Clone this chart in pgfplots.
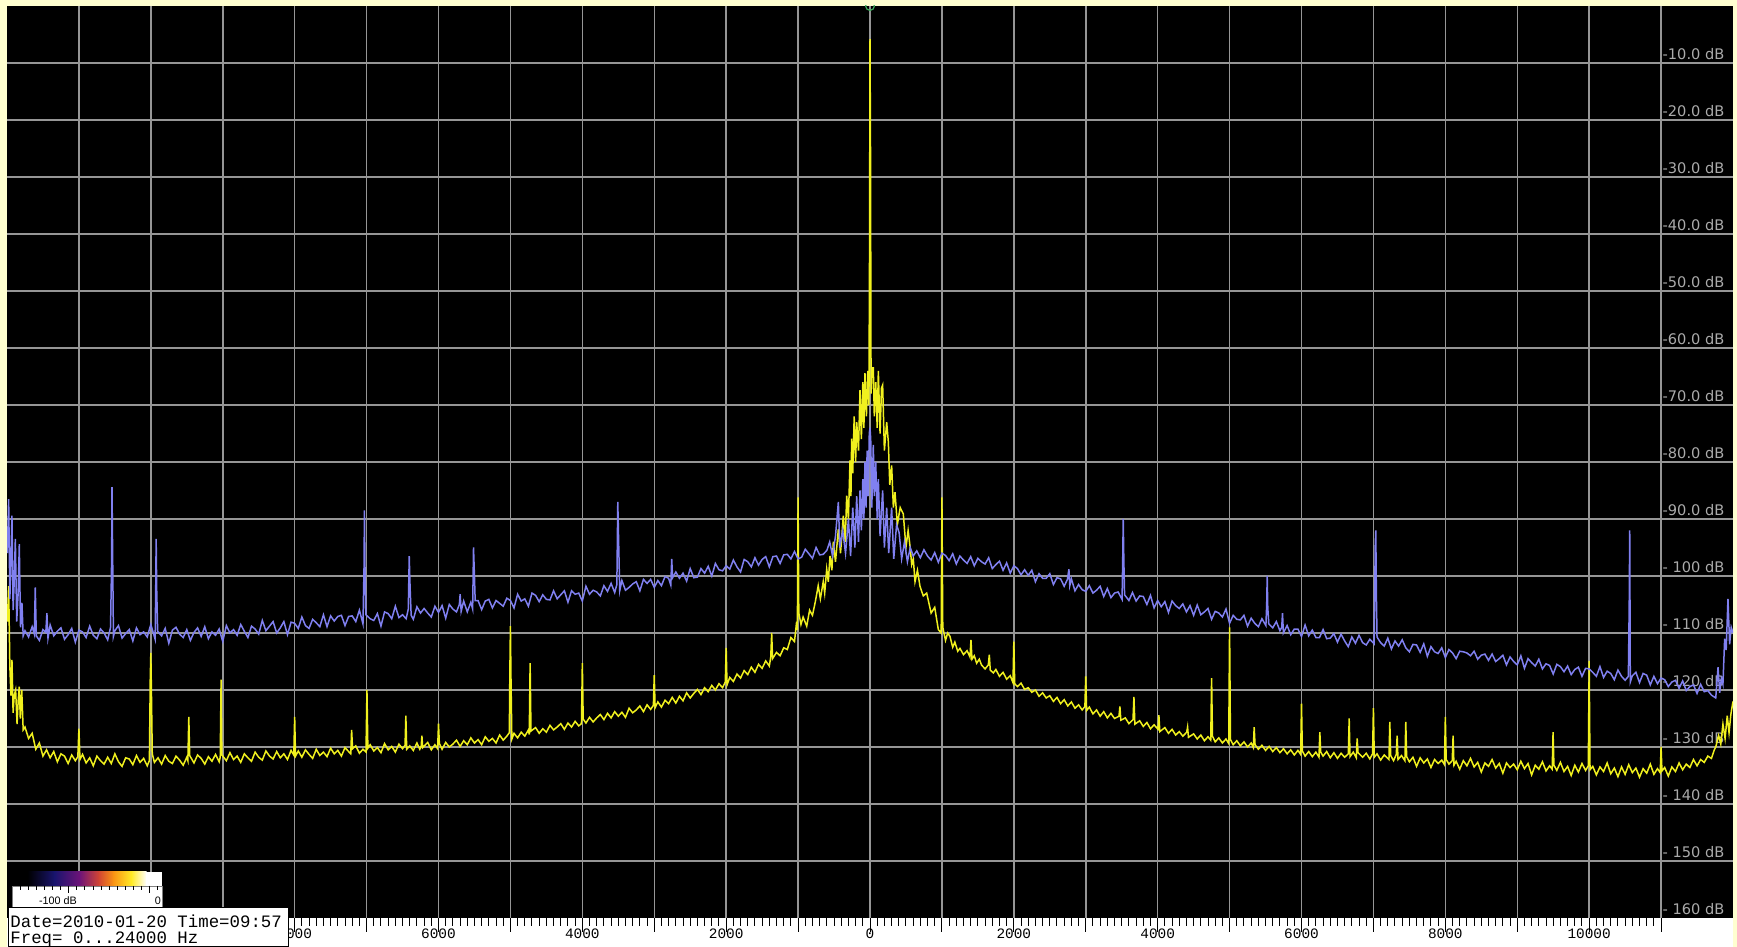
\documentclass[border=0pt]{standalone}
\usepackage{pgfplots}
\pgfplotsset{compat=1.18}
\usepackage{pgfplotstable}
\usepackage{fontspec}
\setmainfont{Liberation Sans}
\newfontfamily\dbfont{DejaVu Sans}
\newfontfamily\rulerfont{Liberation Mono}
\definecolor{framey}{RGB}{255,255,208}
\definecolor{gridg}{RGB}{150,150,150}
\definecolor{labg}{RGB}{170,170,170}
\definecolor{trblue}{RGB}{128,128,240}
\definecolor{tryel}{RGB}{240,240,30}
\definecolor{mkgreen}{RGB}{60,170,90}
\definecolor{sb1}{RGB}{25,20,110}
\definecolor{sb2}{RGB}{110,20,120}
\definecolor{sb3}{RGB}{210,70,50}
\definecolor{sb4}{RGB}{250,150,20}
\definecolor{sb5}{RGB}{255,235,40}
\tikzset{dblab/.style={anchor=south west, inner sep=0pt, xshift=0.6pt, yshift=1.2pt, text=labg, font=\dbfont\fontsize{7.3}{8}\selectfont}}

\pgfplotstableread{
f db
-11995 -96
-11977 -86.5
-11960 -104
-11945 -97
-11931 -89.4
-11915 -106
-11900 -101
-11884 -93.5
-11865 -108
-11845 -103
-11829 -94.4
-11812 -109
-11800 -107
-11792 -104.7
-11775 -110.5
-11750 -109.6
-11700 -110.7
-11650 -108.9
-11620 -110.2
-11607 -102
-11592 -110.5
-11550 -111.3
-11500 -109.4
-11460 -109.9
-11445 -106.5
-11430 -110.9
-11400 -108.6
-11350 -110.5
-11300 -109.7
-11250 -109.1
-11200 -111.1
-11150 -110.3
-11100 -109.2
-11050 -111.6
-11000 -109.5
-10950 -109.8
-10900 -110.8
-10850 -108.8
-10800 -110.4
-10750 -111.0
-10700 -109.3
-10650 -110.0
-10600 -111.2
-10560 -109.0
-10545 -97
-10540 -84.4
-10530 -97.5
-10520 -110.6
-10500 -109.6
-10450 -108.7
-10400 -110.9
-10350 -110.1
-10300 -109.4
-10250 -111.4
-10200 -109.1
-10150 -110.3
-10100 -109.8
-10050 -110.7
-10000 -108.5
-9940 -111.1
-9932 -102
-9926 -93.5
-9918 -102.5
-9905 -109.7
-9850 -110.5
-9800 -109.2
-9750 -111.8
-9700 -109.5
-9650 -109.0
-9600 -110.2
-9550 -110.8
-9500 -109.4
-9450 -111.3
-9400 -109.9
-9350 -109.1
-9300 -110.6
-9250 -108.9
-9200 -111.0
-9150 -109.8
-9100 -110.4
-9050 -109.3
-9000 -111.5
-8950 -108.7
-8900 -110.0
-8850 -109.4
-8800 -110.4
-8750 -108.5
-8700 -109.7
-8650 -110.8
-8600 -108.8
-8550 -109.3
-8500 -110.2
-8450 -107.8
-8400 -109.6
-8350 -108.8
-8300 -108.0
-8250 -110.0
-8200 -109.1
-8150 -108.0
-8100 -110.3
-8050 -108.1
-8000 -108.3
-7950 -109.2
-7900 -107.2
-7850 -108.7
-7800 -109.2
-7750 -107.6
-7700 -108.2
-7650 -108.9
-7600 -106.8
-7550 -108.9
-7500 -107.0
-7450 -107.9
-7400 -107.1
-7350 -106.9
-7300 -108.7
-7250 -107.1
-7200 -107.0
-7150 -108.0
-7100 -106.0
-7050 -108.4
-7035 -98
-7030 -88.5
-7022 -98.5
-7010 -106.8
-6950 -107.5
-6900 -107.8
-6850 -106.6
-6800 -108.8
-6750 -106.3
-6700 -106.6
-6650 -107.5
-6600 -105.3
-6550 -107.3
-6500 -106.8
-6450 -107.5
-6420 -105.8
-6407 -96.5
-6395 -102
-6380 -106.9
-6350 -107.6
-6300 -105.4
-6250 -106.5
-6200 -105.7
-6150 -106.5
-6100 -107.2
-6050 -105.3
-6000 -106.4
-5950 -105.2
-5900 -107.4
-5850 -105.0
-5800 -105.8
-5750 -106.3
-5710 -105.0
-5699 -103.2
-5685 -106.2
-5650 -104.4
-5600 -106.3
-5550 -104.6
-5525 -105.8
-5513 -95
-5500 -100
-5490 -104.3
-5450 -104.3
-5400 -105.9
-5350 -104.4
-5300 -104.1
-5250 -105.6
-5200 -104.3
-5150 -104.8
-5100 -105.3
-5050 -103.9
-5000 -104.3
-4950 -105.6
-4900 -103.2
-4850 -104.4
-4800 -104.0
-4750 -105.3
-4700 -103.0
-4650 -103.4
-4600 -104.5
-4550 -103.3
-4500 -104.1
-4450 -104.2
-4400 -102.6
-4350 -104.0
-4300 -103.3
-4250 -102.6
-4200 -104.6
-4150 -102.6
-4100 -103.2
-4050 -103.0
-4000 -104.4
-3950 -101.8
-3900 -103.2
-3850 -102.5
-3800 -102.8
-3750 -103.5
-3700 -101.7
-3650 -102.7
-3600 -101.3
-3550 -102.9
-3520 -101.5
-3507 -87
-3495 -94
-3480 -102.6
-3450 -100.8
-3400 -102.5
-3350 -102.0
-3300 -101.4
-3250 -101.0
-3200 -102.6
-3150 -100.6
-3100 -101.3
-3050 -100.6
-3000 -102.0
-2950 -100.8
-2900 -101.7
-2850 -100.1
-2800 -100.4
-2770 -101.6
-2757 -97
-2745 -100.3
-2700 -99.3
-2650 -100.4
-2600 -99.5
-2550 -100.9
-2500 -98.7
-2450 -100.3
-2400 -100.2
-2350 -98.7
-2300 -99.5
-2250 -98.3
-2200 -100.0
-2150 -97.8
-2100 -98.9
-2050 -99.1
-2000 -98.2
-1950 -98.8
-1900 -97.2
-1850 -98.4
-1800 -99.3
-1750 -97.1
-1700 -97.5
-1650 -98.4
-1600 -96.8
-1550 -98.1
-1500 -97.1
-1450 -96.6
-1400 -98.4
-1350 -96.6
-1300 -96.5
-1250 -97.8
-1200 -96.3
-1150 -96.2
-1100 -97.0
-1050 -95.7
-1000 -97.0
-950 -96.7
-900 -95.3
-850 -96.1
-800 -96.9
-750 -95.0
-700 -96.3
-650 -96.2
-600 -95.5
-560 -94.0
-520 -96.5
-480 -93.0
-440 -87.0
-420 -95.0
-380 -92.0
-340 -96.0
-300 -90.0
-270 -96.5
-240 -88.0
-210 -95.0
-185 -86.0
-160 -94.0
-139 -85.0
-120 -92.0
-100 -83.0
-85 -90.0
-70 -80.0
-55 -88.0
-40 -78.0
-25 -86.0
-10 -75.0
0 -74.0
10 -76.0
25 -88.0
46 -77.0
60 -86.0
80 -80.0
100 -90.0
116 -83.0
140 -93.0
176 -85.0
200 -95.0
232 -88.0
260 -96.0
301 -88.0
330 -97.0
370 -91.0
405 -92.4
440 -97.0
480 -94.0
520 -97.5
560 -95.0
600 -96.5
650 -95.6
700 -96.8
750 -95.4
800 -96.5
850 -97.2
900 -95.9
950 -97.6
1000 -96.0
1050 -96.4
1100 -97.3
1150 -96.1
1200 -97.9
1250 -96.5
1300 -97.2
1350 -97.8
1400 -96.6
1450 -98.2
1500 -96.9
1550 -97.5
1600 -97.9
1650 -96.8
1700 -98.7
1750 -98.0
1800 -97.4
1850 -99.0
1900 -97.7
1950 -99.5
2000 -98.2
2050 -98.7
2100 -99.8
2150 -98.9
2200 -99.9
2250 -99.0
2300 -101.0
2350 -99.6
2400 -100.4
2450 -100.4
2500 -99.6
2550 -101.5
2600 -100.3
2650 -100.5
2700 -101.8
2745 -100.6
2766 -98.8
2778 -101.7
2800 -100.5
2850 -102.6
2900 -101.5
2950 -102.4
3000 -102.7
3050 -101.7
3100 -103.0
3150 -102.5
3200 -101.8
3250 -103.6
3300 -102.2
3350 -103.8
3400 -103.0
3450 -102.8
3505 -104.1
3514 -97
3521 -90
3530 -97.5
3540 -103.3
3600 -104.3
3650 -102.9
3700 -104.4
3750 -103.5
3800 -103.6
3850 -105.0
3900 -103.4
3950 -105.6
4000 -104.3
4050 -105.4
4100 -104.5
4150 -106.4
4200 -104.4
4250 -105.2
4300 -105.7
4350 -104.9
4400 -106.3
4450 -105.2
4500 -106.9
4550 -105.1
4600 -106.8
4650 -106.3
4700 -105.7
4750 -107.6
4800 -106.2
4850 -106.5
4900 -107.2
4950 -105.8
5000 -108.3
5050 -106.9
5100 -107.6
5150 -107.7
5200 -106.9
5250 -108.8
5300 -107.4
5350 -108.3
5400 -108.9
5450 -107.5
5505 -108.7
5516 -105
5523 -100
5531 -105.5
5545 -108.4
5600 -109.1
5650 -108.0
5700 -109.6
5725 -109.0
5736 -106.5
5748 -110.0
5800 -108.7
5850 -110.3
5900 -109.3
5950 -109.3
6000 -110.6
6050 -108.6
6100 -110.5
6150 -109.5
6200 -110.8
6250 -110.8
6300 -109.4
6350 -111.0
6400 -110.9
6450 -110.1
6500 -111.6
6550 -110.2
6600 -111.4
6650 -112.4
6700 -110.7
6750 -111.8
6800 -110.4
6850 -111.7
6900 -112.1
6950 -111.1
7010 -111.9
7025 -94.7
7033 -92
7041 -103
7050 -110.7
7100 -111.7
7150 -112.3
7200 -110.9
7250 -112.8
7300 -111.4
7350 -112.3
7400 -111.2
7450 -112.6
7500 -113.3
7550 -112.0
7600 -112.1
7650 -113.4
7700 -111.9
7750 -114.1
7800 -112.4
7850 -113.3
7900 -113.6
7950 -112.6
8000 -114.3
8050 -112.9
8100 -113.5
8150 -114.5
8200 -113.2
8250 -113.3
8300 -113.5
8350 -114.0
8400 -113.2
8450 -114.6
8500 -113.9
8550 -113.7
8600 -114.8
8650 -113.7
8700 -115.0
8750 -114.5
8800 -113.9
8850 -115.6
8900 -114.2
8950 -115.0
9000 -115.6
9050 -114.0
9100 -116.2
9150 -114.5
9200 -115.2
9250 -115.8
9300 -114.6
9350 -116.3
9400 -115.4
9450 -115.7
9500 -117.2
9550 -115.5
9600 -115.9
9650 -116.8
9700 -115.8
9750 -117.3
9800 -116.4
9850 -116.0
9900 -117.6
9950 -116.2
10000 -116.3
10050 -116.9
10100 -117.6
10150 -115.9
10200 -117.8
10250 -116.7
10300 -117.1
10350 -118.2
10400 -116.5
10450 -117.6
10500 -118.3
10545 -117.6
10557 -104.7
10564 -92
10572 -118.6
10600 -117.5
10650 -116.9
10700 -118.7
10750 -117.1
10800 -117.4
10850 -119.1
10900 -117.6
10950 -118.9
11000 -117.9
11050 -118.2
11100 -119.4
11150 -118.6
11200 -118.3
11250 -119.7
11300 -118.4
11350 -120.1
11400 -119.4
11450 -119.1
11500 -120.6
11550 -119.0
11600 -120.3
11650 -120.1
11700 -120.9
11760 -121.4
11792 -116
11815 -120.5
11838 -118
11860 -119
11884 -111
11905 -113
11930 -104
11953 -112
11975 -109
12000 -110
}\bluedata

\pgfplotstableread{
f db
-11995 -108
-11977 -101.8
-11960 -116
-11945 -121
-11931 -114.7
-11915 -124
-11900 -121
-11880 -120
-11860 -126
-11845 -122
-11830 -119.4
-11815 -125
-11795 -120
-11775 -127
-11750 -126.5
-11700 -128.5
-11650 -127.6
-11600 -130.4
-11550 -129.3
-11500 -131.6
-11450 -130.5
-11400 -131.9
-11350 -130.8
-11300 -132.6
-11250 -131.2
-11200 -131.6
-11150 -132.9
-11100 -131.4
-11050 -132.4
-11015 -131.7
-11000 -126.8
-10985 -132.2
-10950 -131.3
-10900 -132.8
-10850 -131.9
-10800 -133.3
-10750 -131.6
-10700 -132.4
-10650 -133.0
-10600 -131.8
-10550 -132.9
-10500 -131.2
-10450 -132.6
-10400 -133.4
-10350 -131.9
-10300 -132.1
-10250 -133.1
-10200 -131.5
-10150 -132.7
-10100 -132.0
-10050 -133.3
-10020 -132.4
-10008 -118
-10000 -113.5
-9992 -120
-9980 -131.2
-9950 -132.7
-9900 -131.9
-9850 -133.0
-9800 -131.5
-9750 -132.5
-9700 -132.9
-9650 -131.6
-9600 -132.3
-9550 -133.2
-9500 -131.8
-9485 -132.4
-9472 -124.7
-9460 -131.5
-9400 -132.8
-9350 -131.4
-9300 -132.0
-9250 -133.0
-9200 -131.7
-9150 -132.5
-9100 -131.3
-9050 -132.6
-9035 -131.8
-9023 -118.2
-9012 -131.4
-8950 -132.4
-8900 -131.0
-8850 -132.2
-8800 -131.6
-8750 -132.7
-8700 -131.2
-8650 -131.9
-8600 -132.5
-8550 -130.9
-8500 -131.8
-8450 -132.3
-8400 -130.7
-8350 -131.6
-8300 -132.1
-8250 -130.8
-8200 -131.9
-8150 -131.2
-8100 -132.2
-8050 -130.6
-8012 -131.4
-8000 -124.7
-7988 -131.6
-7950 -130.7
-7900 -131.8
-7850 -130.5
-7800 -131.3
-7750 -132.0
-7700 -130.4
-7650 -131.5
-7600 -130.9
-7550 -131.7
-7500 -130.2
-7450 -131.2
-7400 -130.6
-7350 -131.6
-7300 -130.1
-7250 -130.8
-7220 -131.2
-7208 -127
-7195 -130.3
-7150 -129.8
-7100 -131.1
-7050 -130.4
-7008 -130.9
-6995 -120
-6982 -130.2
-6950 -129.6
-6900 -130.7
-6850 -130.1
-6800 -131.0
-6750 -129.4
-6700 -130.5
-6650 -129.9
-6600 -130.9
-6550 -129.5
-6500 -130.3
-6465 -129.7
-6454 -124.5
-6442 -130.4
-6400 -129.8
-6350 -130.6
-6300 -129.3
-6260 -130.4
-6240 -129.8
-6231 -128
-6220 -130.1
-6150 -129.2
-6100 -130.5
-6050 -129.6
-6012 -130.3
-6000 -125.9
-5988 -129.4
-5950 -130.4
-5900 -129.2
-5850 -130.0
-5800 -129.5
-5750 -128.8
-5700 -129.9
-5650 -128.9
-5600 -129.6
-5550 -128.4
-5500 -129.3
-5450 -128.7
-5400 -129.6
-5350 -128.2
-5300 -129.0
-5250 -128.5
-5200 -129.3
-5150 -127.9
-5100 -128.8
-5050 -128.1
-5015 -127.5
-5008 -117
-5000 -108.8
-4992 -118
-4980 -128.6
-4950 -127.6
-4900 -128.4
-4850 -127.4
-4800 -128.1
-4750 -127.0
-4738 -127.8
-4726 -115.3
-4714 -127.2
-4650 -126.6
-4600 -127.6
-4550 -126.8
-4500 -127.4
-4450 -126.2
-4400 -127.0
-4350 -126.5
-4300 -125.9
-4250 -126.9
-4200 -125.8
-4150 -126.5
-4100 -125.5
-4050 -126.3
-4012 -125.9
-4000 -115.3
-3988 -125.1
-3950 -125.8
-3900 -124.8
-3850 -125.6
-3800 -124.9
-3750 -124.3
-3700 -125.2
-3650 -124.1
-3600 -124.9
-3550 -123.8
-3500 -124.6
-3450 -123.9
-3400 -124.8
-3350 -123.2
-3300 -124.0
-3250 -123.5
-3200 -122.8
-3150 -123.8
-3100 -122.6
-3050 -123.4
-3012 -122.7
-3000 -117.4
-2988 -123.1
-2950 -122.1
-2900 -123.0
-2850 -121.8
-2800 -122.4
-2750 -121.3
-2700 -122.3
-2650 -121.1
-2600 -121.9
-2550 -120.5
-2500 -121.4
-2450 -120.6
-2400 -119.9
-2350 -120.8
-2300 -119.6
-2250 -120.3
-2200 -119.2
-2150 -120.0
-2100 -118.9
-2050 -119.6
-2012 -118.6
-2000 -112.6
-1988 -119.1
-1950 -117.8
-1900 -118.5
-1850 -117.2
-1800 -117.9
-1750 -116.6
-1700 -117.3
-1650 -116.0
-1600 -116.9
-1550 -115.5
-1500 -116.2
-1450 -114.9
-1400 -115.8
-1380 -114.2
-1367 -110
-1355 -114.5
-1300 -113.4
-1250 -114.0
-1200 -112.6
-1150 -112.9
-1100 -110.8
-1050 -111.5
-1020 -108.0
-1010 -109.5
-1000 -86.2
-990 -106.5
-960 -108.5
-930 -107.2
-880 -108.8
-840 -106.0
-800 -106.9
-760 -104.5
-720 -101.7
-690 -104.0
-650 -101.0
-630 -103.0
-602 -98.8
-580 -101.0
-556 -96.5
-530 -99.0
-510 -94.0
-480 -97.5
-440 -91.8
-410 -96.0
-371 -89.4
-345 -94.0
-324 -85.9
-300 -90.0
-278 -79.7
-265 -86.0
-255 -75.9
-240 -82.0
-220 -72.0
-200 -80.0
-185 -73.0
-160 -78.0
-139 -67.4
-120 -76.0
-100 -66.0
-85 -74.0
-70 -64.4
-50 -72.0
-30 -64.0
-15 -70.0
-7 -45.0
0 -5.8
7 -25.0
15 -68.0
30 -63.5
46 -63.5
60 -72.0
80 -66.0
100 -74.0
116 -64.0
140 -75.0
160 -67.0
176 -66.5
200 -78.0
232 -73.0
255 -76.5
275 -84.0
301 -80.6
325 -88.0
348 -85.3
380 -91.0
420 -88.0
463 -89.1
500 -95.0
530 -92.0
556 -94.7
580 -98.0
602 -97.0
626 -101.0
660 -99.0
695 -101.8
741 -103.5
788 -103.0
850 -106.5
900 -105.5
950 -109.4
990 -110.0
1000 -86.2
1012 -109.0
1050 -111.3
1080 -110.0
1112 -110.6
1150 -112.5
1180 -111.6
1220 -113.2
1251 -112.7
1300 -113.8
1350 -113.1
1390 -114.2
1404 -111.2
1418 -114.6
1450 -114.0
1483 -115.3
1520 -114.6
1550 -115.6
1600 -116.3
1645 -115.6
1659 -113.8
1672 -116.5
1714 -117.0
1750 -116.4
1800 -117.6
1850 -116.9
1900 -118.1
1950 -117.5
1988 -118.7
2000 -111.5
2012 -118.9
2050 -119.4
2100 -118.8
2150 -119.9
2200 -119.6
2250 -120.4
2300 -120.0
2350 -121.1
2400 -120.5
2450 -121.4
2500 -121.0
2550 -122.0
2600 -121.3
2650 -122.4
2700 -121.7
2750 -122.8
2800 -122.1
2850 -123.2
2900 -122.6
2950 -123.5
2988 -122.9
3000 -117.6
3012 -123.6
3050 -123.0
3100 -124.2
3150 -123.5
3200 -124.6
3250 -123.8
3300 -124.9
3350 -124.1
3400 -125.0
3462 -124.6
3475 -122.9
3488 -125.3
3550 -124.9
3600 -125.9
3657 -125.2
3670 -121.2
3683 -126.0
3750 -125.4
3800 -126.4
3850 -125.7
3900 -126.8
3950 -126.1
4005 -126.9
4017 -124.4
4030 -127.3
4100 -126.6
4150 -127.6
4200 -126.9
4250 -127.9
4300 -127.3
4350 -128.1
4404 -127.4
4416 -126.5
4428 -128.3
4500 -127.7
4550 -128.6
4600 -127.9
4650 -128.9
4700 -128.2
4738 -128.8
4750 -117.9
4762 -128.1
4800 -129.1
4850 -128.4
4900 -129.3
4950 -128.6
4988 -129.4
5000 -109.0
5012 -128.7
5050 -129.6
5100 -128.9
5150 -129.8
5200 -129.1
5250 -130.0
5300 -129.3
5330 -130.1
5342 -126.5
5354 -129.6
5400 -130.4
5450 -129.7
5500 -130.6
5550 -129.9
5600 -130.8
5650 -130.1
5700 -131.0
5750 -130.3
5800 -131.2
5850 -130.5
5900 -131.4
5950 -130.6
5988 -131.3
6000 -122.4
6012 -130.7
6050 -131.6
6100 -130.8
6150 -131.7
6200 -130.9
6243 -131.8
6255 -127.4
6267 -130.9
6300 -131.6
6350 -130.8
6400 -131.9
6450 -131.0
6500 -132.0
6550 -131.1
6600 -131.8
6651 -131.2
6663 -125.0
6675 -131.7
6720 -130.9
6762 -131.9
6774 -128.5
6786 -131.0
6850 -131.8
6900 -131.1
6950 -132.1
6988 -131.2
7000 -123.2
7012 -131.8
7050 -131.2
7100 -132.3
7150 -131.4
7216 -132.2
7228 -125.6
7240 -131.5
7280 -132.4
7318 -131.3
7330 -128.0
7342 -132.2
7390 -131.5
7438 -132.4
7450 -125.6
7462 -131.7
7500 -132.6
7550 -131.8
7600 -133.4
7650 -131.9
7700 -132.8
7750 -132.1
7800 -133.6
7850 -132.2
7900 -132.9
7950 -132.3
7988 -133.1
8000 -124.7
8012 -132.2
8050 -133.0
8096 -132.4
8108 -128.0
8120 -133.2
8150 -132.5
8200 -133.9
8250 -132.4
8300 -133.3
8350 -132.0
8400 -133.5
8450 -132.7
8500 -134.4
8550 -132.8
8600 -133.4
8650 -132.2
8700 -133.7
8750 -132.9
8800 -134.6
8850 -132.8
8900 -133.6
8950 -133.0
9000 -134.0
9050 -132.5
9100 -133.8
9150 -132.9
9200 -134.9
9250 -133.2
9300 -133.9
9350 -132.6
9400 -134.2
9450 -133.3
9486 -133.9
9498 -127.4
9510 -133.2
9550 -134.1
9600 -132.7
9650 -134.3
9700 -133.4
9750 -135.0
9800 -133.2
9850 -134.4
9900 -132.9
9950 -134.1
9988 -133.3
10000 -114.9
10012 -134.0
10050 -133.4
10100 -134.9
10150 -133.5
10200 -134.3
10250 -132.8
10300 -134.7
10350 -133.7
10400 -135.2
10450 -133.5
10500 -134.8
10550 -133.1
10600 -134.5
10650 -133.7
10700 -135.3
10750 -133.8
10800 -134.6
10850 -133.0
10900 -134.8
10950 -133.8
10988 -134.5
11000 -130.0
11012 -134.2
11050 -133.6
11100 -135.1
11150 -133.5
11200 -134.3
11250 -132.8
11300 -134.0
11350 -133.0
11400 -133.6
11450 -132.2
11500 -133.3
11550 -132.2
11600 -132.7
11650 -131.6
11700 -132.0
11740 -130.5
11760 -130.0
11800 -128.0
11830 -129.5
11860 -126.0
11890 -128.5
11920 -124.5
11945 -127.5
11970 -124.3
12000 -122.0
}\yeldata

\begin{document}
\begin{tikzpicture}
\path[use as bounding box] (0,0) rectangle (868.5pt,473.5pt);
\fill[framey] (0,0) rectangle (868.5pt,473.5pt);
\fill[white] (3.5pt,0) rectangle (866.5pt,14.5pt);
\begin{axis}[
  at={(3.5pt,14.5pt)}, anchor=south west,
  scale only axis, width=863pt, height=456pt,
  xmin=-12000, xmax=12000, ymin=-160, ymax=0,
  axis background/.style={fill=black},
  axis line style={draw=none},
  scaled x ticks=false, scaled y ticks=false,
  xtick={-11000,-10000,...,11000},
  xticklabels={,,,8000,,6000,,4000,,2000,,0,,2000,,4000,,6000,,8000,,10000,},
  minor x tick num=9,
  xtick pos=bottom, tick align=outside,
  major tick length=7pt, minor tick length=4pt,
  every tick/.style={black, line width=0.5pt},
  ytick={-150,-140,...,-10}, yticklabels={}, ytick style={draw=none},
  xmajorgrids, ymajorgrids,
  major grid style={gridg, line width=0.75pt},
  xticklabel style={font=\rulerfont\fontsize{7.2}{8}\selectfont, text=black, inner sep=0.8pt, yshift=2.5pt},
  clip marker paths=true,
]
\node[dblab] at (axis cs:11000,-10) {-10.0 dB};
\node[dblab] at (axis cs:11000,-20) {-20.0 dB};
\node[dblab] at (axis cs:11000,-30) {-30.0 dB};
\node[dblab] at (axis cs:11000,-40) {-40.0 dB};
\node[dblab] at (axis cs:11000,-50) {-50.0 dB};
\node[dblab] at (axis cs:11000,-60) {-60.0 dB};
\node[dblab] at (axis cs:11000,-70) {-70.0 dB};
\node[dblab] at (axis cs:11000,-80) {-80.0 dB};
\node[dblab] at (axis cs:11000,-90) {-90.0 dB};
\node[dblab] at (axis cs:11000,-100) {- 100 dB};
\node[dblab] at (axis cs:11000,-110) {- 110 dB};
\node[dblab] at (axis cs:11000,-120) {- 120 dB};
\node[dblab] at (axis cs:11000,-130) {- 130 dB};
\node[dblab] at (axis cs:11000,-140) {- 140 dB};
\node[dblab] at (axis cs:11000,-150) {- 150 dB};
\node[dblab] at (axis cs:11000,-160) {- 160 dB};
\addplot[tryel, line width=0.75pt] table[x=f, y=db] {\yeldata};
\addplot[trblue, line width=0.75pt] table[x=f, y=db] {\bluedata};
\addplot[only marks, mark=o, mark size=2.2pt, mkgreen, mark options={line width=0.6pt}] coordinates {(0,0)};
\end{axis}
% colour bar legend
\fill[white] (6pt,20pt) rectangle (81pt,37.5pt);
\fill[black] (6pt,30.5pt) rectangle (14pt,37.5pt);
\shade[left color=black, right color=sb1] (13.8pt,30.5pt) rectangle (27.4pt,37.5pt);
\shade[left color=sb1, right color=sb2] (27.2pt,30.5pt) rectangle (40pt,37.5pt);
\shade[left color=sb2, right color=sb3] (39.8pt,30.5pt) rectangle (49.6pt,37.5pt);
\shade[left color=sb3, right color=sb4] (49.4pt,30.5pt) rectangle (57pt,37.5pt);
\shade[left color=sb4, right color=sb5] (56.8pt,30.5pt) rectangle (65.9pt,37.5pt);
\shade[left color=sb5, right color=white] (65.7pt,30.5pt) rectangle (73.3pt,37.5pt);
\fill[white] (73.1pt,30.5pt) rectangle (81pt,37.5pt);
\draw[gray, line width=0.4pt] (6pt,20pt) rectangle (81pt,30.5pt);
\foreach \i in {0,...,17} {\draw[black, line width=0.4pt] ({10pt+\i*4.05pt},30.5pt) -- ++(0,-2pt);}
\foreach \i in {0,10} {\draw[black, line width=0.4pt] ({34pt+\i*4.05pt},30.5pt) -- ++(0,-3.5pt);}
\node[font=\fontsize{5.4}{6}\selectfont, inner sep=0pt] at (29pt,23pt) {-100 dB};
\node[font=\fontsize{5.4}{6}\selectfont, inner sep=0pt] at (79pt,23pt) {0};
% date box
\fill[white] (4pt,0) rectangle (144pt,19.5pt);
\draw[black, line width=0.5pt] (4pt,0.25pt) rectangle (144pt,19.5pt);
\node[font=\rulerfont\fontsize{8.7}{9}\selectfont, anchor=base west, inner sep=0pt] at (5pt,9.6pt) {Date=2010-01-20 Time=09:57};
\node[font=\rulerfont\fontsize{8.7}{9}\selectfont, anchor=base west, inner sep=0pt] at (5pt,1.9pt) {Freq= 0...24000 Hz};
\end{tikzpicture}
\end{document}
